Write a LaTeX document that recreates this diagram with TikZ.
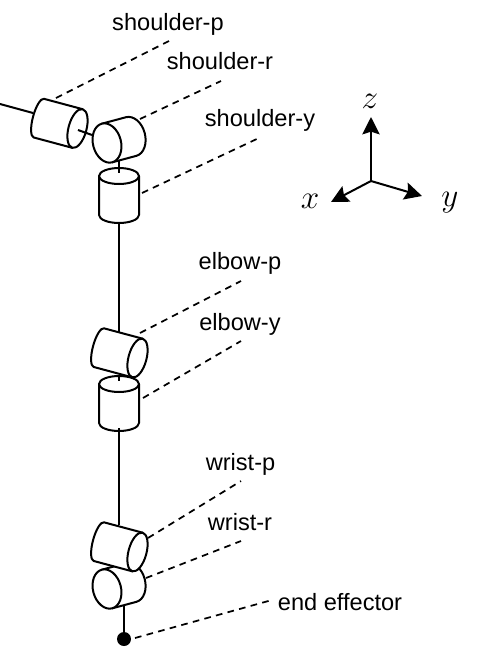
\documentclass[tikz,border=0pt]{standalone}
\usepackage{fontspec}
\setmainfont{Liberation Sans}
\usetikzlibrary{arrows.meta}

\tikzset{
  link/.style={line width=1.5pt},
  cyl/.style={line width=1.5pt,fill=white,line join=round},
  leader/.style={line width=1.3pt,dash pattern=on 5pt off 4pt},
  axis/.style={line width=1.5pt,-{Stealth[length=13pt,width=13pt,inset=2pt]}},
  jointlabel/.style={font=\fontsize{17.7pt}{20pt}\selectfont,inner sep=0pt,anchor=base},
  axislabel/.style={font=\fontsize{24pt}{26pt}\selectfont,inner sep=0pt}
}

% x, y of the front face, rotation, length, half width of the face, bulge of the back
\newcommand{\jointcyl}[6]{
  \begin{scope}[shift={(#1,#2)},rotate=#3]
    \draw[cyl] (0,-20) -- (-#4,-20) arc[start angle=270,end angle=90,x radius=#6,y radius=20] -- (0,20) -- cycle;
    \draw[cyl] (0,0) ellipse[x radius=#5,y radius=20];
  \end{scope}
}

\begin{document}
\begin{tikzpicture}[x=0.75pt,y=-0.75pt]
\useasboundingbox (0,0) rectangle (484,658);

% arm
\coordinate (base) at (0,104);
\coordinate (pin) at (33,113);
\draw[link] (base) -- (pin);

\jointcyl{119}{176}{90}{39}{8}{8}
\draw[link] (119,160) -- (119,173);
\draw[link] (119,222) -- (119,335);

\jointcyl{119}{384}{90}{39}{8}{8}
\draw[link] (119,428) -- (119,525);

\jointcyl{107}{143}{195}{25}{14}{14}
\jointcyl{77.5}{128.5}{-15}{40}{9}{6}
\draw[link] (78,130) -- (92,135);

\jointcyl{137.5}{358}{-15}{40}{9}{6}
\draw[link] (119,375) -- (119,381);

\draw[link] (124,606) -- (124,638);
\jointcyl{107}{589}{195}{25}{14}{14}
\jointcyl{137.5}{552}{-15}{40}{9}{6}

\coordinate (effector) at (124,639);
\fill (effector) circle (7);

% labels
\node[jointlabel] (shoulderp) at (168,30) {shoulder-p};
\node[jointlabel] (shoulderr) at (220,69) {shoulder-r};
\node[jointlabel] (shouldery) at (260,126) {shoulder-y};
\node[jointlabel] (elbowp) at (240,269) {elbow-p};
\node[jointlabel] (elbowy) at (240,330) {elbow-y};
\node[jointlabel] (wristp) at (240.5,470) {wrist-p};
\node[jointlabel] (wristr) at (240,530) {wrist-r};
\node[jointlabel] (endeff) at (340,610) {end effector};

\draw[leader] (56,98) -- (169,41);
\draw[leader] (140,119) -- (221,81);
\draw[leader] (142,193) -- (261,137);
\draw[leader] (140,333) -- (241,281);
\draw[leader] (143,398) -- (241,341);
\draw[leader] (148,538) -- (241,481);
\draw[leader] (146,578) -- (241,541);
\draw[leader] (135,638) -- (272,600);

% frame
\coordinate (origin) at (371,181);
\coordinate (ztip) at (371,117);
\coordinate (xtip) at (331,202);
\coordinate (ytip) at (422,196);
\draw[axis] (origin) -- (ztip);
\draw[axis] (origin) -- (xtip);
\draw[axis] (origin) -- (ytip);
\node[axislabel] (zlabel) at (370,101) {$z$};
\node[axislabel] (xlabel) at (310,201) {$x$};
\node[axislabel] (ylabel) at (450,203) {$y$};
\end{tikzpicture}
\end{document}
